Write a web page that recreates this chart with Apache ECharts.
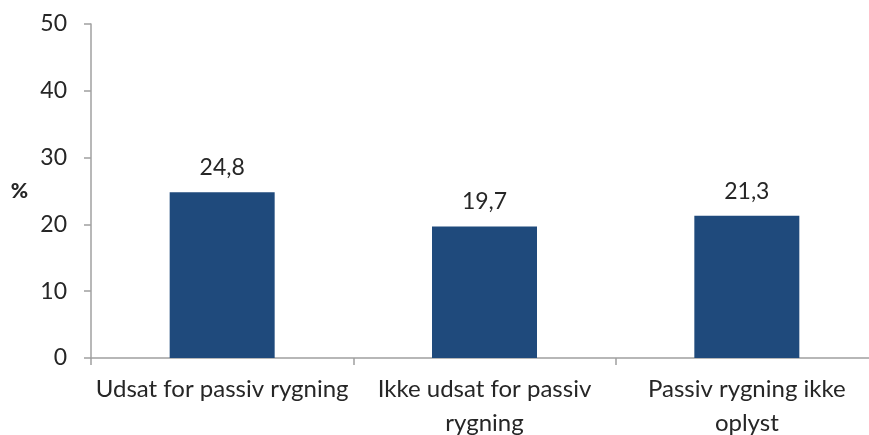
<!DOCTYPE html>
<html><head><meta charset="utf-8">
<script src="https://cdn.jsdelivr.net/npm/echarts@6/dist/echarts.min.js"></script>
<style>html,body{margin:0;padding:0;background:#fff}#c{width:869px;height:435px}</style>
</head><body><div id="c"></div>
<script>
const categories = ['Udsat for passiv rygning', 'Ikke udsat for passiv\nrygning', 'Passiv rygning ikke\noplyst'];
const values = [24.8, 19.7, 21.3];
const yTicks = [0, 10, 20, 30, 40, 50];
const yName = '%';

const chart = echarts.init(document.getElementById('c'), null, {renderer: 'canvas'});
const font = 'Lato';
chart.setOption({
  animation: false,
  grid: {left: 91, right: -9, top: 24, bottom: 77, containLabel: false, outerBoundsMode: 'none'},
  xAxis: {
    type: 'category', data: categories,
    axisLine: {lineStyle: {color: '#A0A0A0', width: 1.5}},
    axisTick: {show: true, length: 7, lineStyle: {color: '#A0A0A0', width: 1.5}},
    axisLabel: {interval: 0, color: '#262626', fontFamily: font, fontSize: 24, margin: 14, lineHeight: 34}
  },
  yAxis: {
    type: 'value', min: yTicks[0], max: yTicks[yTicks.length - 1], interval: 10,
    name: yName, nameLocation: 'middle', nameRotate: 0, nameGap: 63,
    nameTextStyle: {color: '#262626', fontFamily: font, fontSize: 21, fontWeight: 900},
    axisLine: {show: true, lineStyle: {color: '#A0A0A0', width: 1.5}},
    axisTick: {show: true, length: 7, lineStyle: {color: '#A0A0A0', width: 1.5}},
    splitLine: {show: false},
    axisLabel: {color: '#262626', fontFamily: font, fontSize: 23, margin: 24}
  },
  series: [{
    type: 'bar', data: values, barWidth: 105,
    itemStyle: {color: '#1F4A7C'},
    label: {show: true, position: 'top', distance: 13, color: '#262626', fontFamily: font, fontSize: 23,
      formatter: p => String(p.value).replace('.', ',')}
  }]
});
</script></body></html>
